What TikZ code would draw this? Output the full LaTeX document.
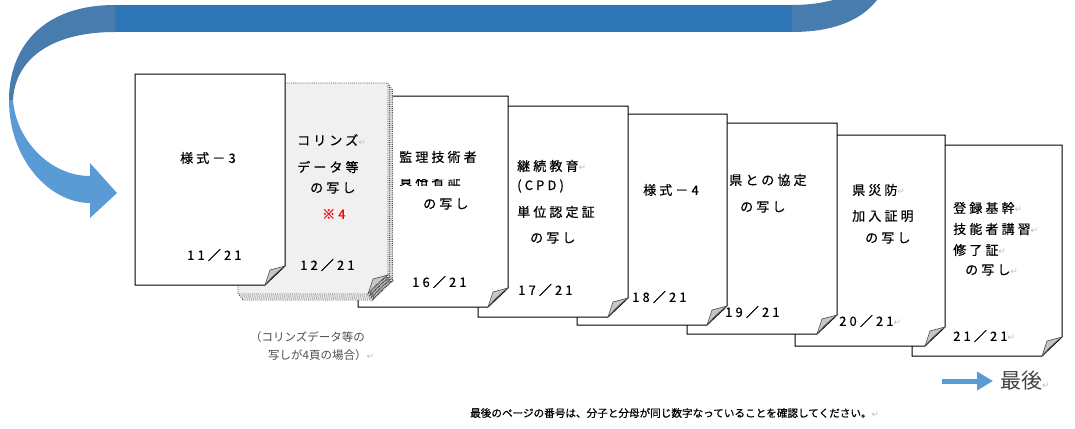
\documentclass[tikz,border=0pt]{standalone}
\usepackage{fontspec}
\setmainfont{Noto Sans CJK JP}
\newfontfamily\jpwide[LetterSpace=24, FakeBold=0.5]{Noto Sans CJK JP}
\newfontfamily\jpnote[FakeBold=0.6]{Noto Sans CJK JP}
\newfontfamily\retfont{DejaVu Sans}
\usetikzlibrary{arrows.meta}

\definecolor{bandblue}{RGB}{46,117,182}
\definecolor{bandshade}{RGB}{72,124,175}
\definecolor{bandlight}{RGB}{91,155,213}
\definecolor{pagegray}{RGB}{240,240,240}
\newcommand{\ret}{{\retfont\color{gray!50}\fontsize{9}{9}\selectfont ↵}}

\tikzset{
  sheetline/.style={draw=black, line width=1pt},
  stackline/.style={draw=black!70, line width=0.9pt, densely dotted},
  flapline/.style={draw=black!70, line width=0.6pt, fill=gray!45},
  pics/docpage/.style={code={
    \draw[#1] (0,0) -- (150,0) -- (150,192) -- (130,211) -- (0,211) -- cycle;
    \draw[flapline] (130,211) -- (135,196) -- (150,192) .. controls (142,198) and (136,204) .. cycle;
  }},
  lbl/.style={anchor=west, inner sep=0pt, font=\jpwide\fontsize{13}{13}\selectfont},
  note/.style={anchor=west, inner sep=0pt, text=gray!60!black, font=\fontsize{11.5}{11.5}\selectfont}
}

\begin{document}
\begin{tikzpicture}[x=1pt, y=-1pt]
  \useasboundingbox (0,0) rectangle (1075,428);

  % big return arrow
  \fill[bandblue] (113,5) rectangle (792,32);
  \fill[bandshade] (792,5) .. controls (808,5) and (822,3) .. (833,0) -- (877,0)
    .. controls (860,22) and (830,32) .. (792,32) -- cycle;
  \fill[bandshade] (115,5) .. controls (40,5) and (9,50) .. (9,100) -- (13,100)
    .. controls (15,60) and (50,32) .. (115,32) -- cycle;
  \fill[bandlight] (9,100) .. controls (9,160) and (50,203) .. (90,203) -- (90,218)
    -- (117,193) -- (90,163) -- (90,176) .. controls (50,176) and (16,140) .. (13,100) -- cycle;

  % pages, back to front
  \foreach \px/\py in {912/145, 795/135, 687/123, 577/114, 478/106, 358/96} {
    \pic at (\px,\py) {docpage={sheetline, fill=white}};
  }
  \foreach \k in {3,2,1} {
    \pic at (238+1.5*\k,83+2*\k) {docpage={stackline, fill=pagegray}};
  }
  \pic at (238,83) {docpage={stackline, fill=pagegray}};
  \pic at (135,74) {docpage={sheetline, fill=white}};

  % page texts
  \node[lbl] (f3) at (180,158) {様式－3};
  \node[lbl] (f3no) at (187,255) {11／21};

  \node[lbl] (cor1) at (297,140) {コリンズ\ret};
  \node[lbl] (cor2) at (297,167) {データ等};
  \node[lbl] (cor3) at (310,188) {の写し};
  \node[lbl, text=red] (cor4) at (322,214) {※4};
  \node[lbl] (corno) at (300,265) {12／21};

  \node[lbl] (kan1) at (399,157) {監理技術者};
  \begin{scope}
    \clip (395,179) rectangle (495,188);
    \node[lbl] (kan2) at (399,180) {資格者証};
  \end{scope}
  \node[lbl] (kan3) at (423,204) {の写し};
  \node[lbl] (kanno) at (412,282) {16／21};

  \node[lbl] (cpd1) at (517,166) {継続教育\ret};
  \node[lbl] (cpd2) at (517,186) {(CPD)};
  \node[lbl] (cpd3) at (517,212) {単位認定証};
  \node[lbl] (cpd4) at (530,238) {の写し};
  \node[lbl] (cpdno) at (518,290) {17／21};

  \node[lbl] (f4) at (643,190) {様式－4};
  \node[lbl] (f4no) at (632,297) {18／21};

  \node[lbl] (kyo1) at (729,180) {県との協定};
  \node[lbl] (kyo2) at (740,207) {の写し};
  \node[lbl] (kyono) at (725,312) {19／21};

  \node[lbl] (sai1) at (852,190) {県災防\ret};
  \node[lbl] (sai2) at (852,216) {加入証明};
  \node[lbl] (sai3) at (865,238) {の写し};
  \node[lbl] (saino) at (839,321) {20／21\ret};

  \node[lbl] (tou1) at (953,208) {登録基幹\ret};
  \node[lbl] (tou2) at (953,229) {技能者講習\ret};
  \node[lbl] (tou3) at (953,250) {修了証\ret};
  \node[lbl] (tou4) at (965,270) {の写し\ret};
  \node[lbl] (touno) at (953,336) {21／21\ret};

  % notes
  \node[note] (cap1) at (250,337) {（コリンズデータ等の};
  \node[note] (cap2) at (268,355) {写しが4頁の場合）\ret};

  \node[anchor=west, inner sep=0pt, text=black!75, font=\fontsize{21}{21}\selectfont] (last) at (1000,381) {最後\ret};
  \coordinate (lasttail) at (942,381);
  \draw[bandlight, line width=5pt, -{Triangle[length=16pt, width=18pt]}] (lasttail) -- ([xshift=-7]last.west);

  \node[anchor=west, inner sep=0pt, font=\jpnote\fontsize{10.6}{10.6}\selectfont] (check) at (470,413)
    {最後のページの番号は、分子と分母が同じ数字なっていることを確認してください。\ret};
\end{tikzpicture}
\end{document}
